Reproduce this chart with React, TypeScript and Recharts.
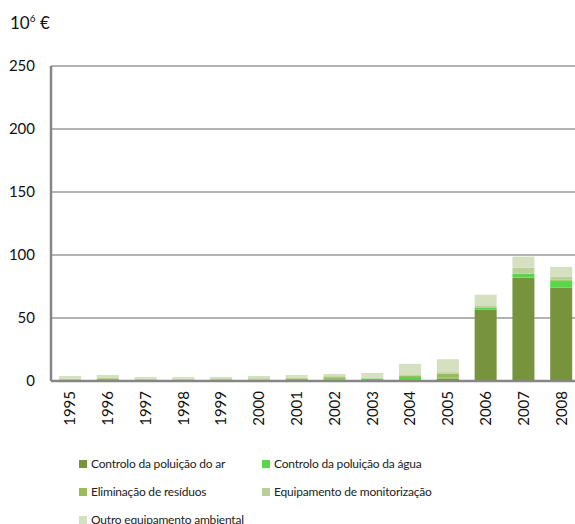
import { Bar, BarChart, CartesianGrid, XAxis, YAxis } from "recharts";

// Stacked annual spend by equipment type, values in millions of euro.
const years = ["1995", "1996", "1997", "1998", "1999", "2000", "2001", "2002", "2003", "2004", "2005", "2006", "2007", "2008"];
const air = [0, 0, 0, 0, 0, 0, 0, 0.6, 0, 0.8, 2, 56.5, 82, 74];
const water = [0, 0, 0, 0, 0, 0, 0, 0.8, 2, 2.4, 0.5, 1.9, 3.2, 5.6];
const residues = [1.2, 1.6, 1.2, 1.0, 0.8, 1.2, 1.6, 1.6, 0, 0.8, 3.2, 0, 0, 1];
const monitoring = [0.8, 0.8, 0.6, 0.8, 0.8, 1.0, 1.0, 0.8, 0.6, 0.8, 1.3, 1.6, 4.8, 2];
const other = [2, 2.4, 1.4, 1.4, 1.6, 1.8, 2.2, 1.8, 3.8, 8.8, 10.3, 8.5, 8.7, 8];
const yTicks = [0, 50, 100, 150, 200, 250];

const SERIES = [
  { key: "air", name: "Controlo da poluição do ar", color: "#77933C", values: air },
  { key: "water", name: "Controlo da poluição da água", color: "#58D848", values: water },
  { key: "residues", name: "Eliminação de resíduos", color: "#9BBB59", values: residues },
  { key: "monitoring", name: "Equipamento de monitorização", color: "#BCCF99", values: monitoring },
  { key: "other", name: "Outro equipamento ambiental", color: "#D4E0BF", values: other },
];

const data = years.map((year, i) => {
  const row: Record<string, string | number> = { year };
  SERIES.forEach((s) => {
    row[s.key] = s.values[i];
  });
  return row;
});

const FONT = "Lato, 'Open Sans', sans-serif";

function YearTick({ x, y, payload }: any) {
  return (
    <g transform={`translate(${x},${y})`}>
      <text
        transform="rotate(-90)"
        x={-8}
        dy="0.36em"
        textAnchor="end"
        fill="#111"
        fontSize={15}
        fontFamily={FONT}
      >
        {payload.value}
      </text>
    </g>
  );
}

export default function App() {
  return (
    <div
      style={{
        position: "absolute",
        left: 0,
        top: 0,
        width: 575,
        height: 524,
        overflow: "hidden",
        background: "#fff",
        fontFamily: FONT,
      }}
    >
      <div
        style={{
          position: "absolute",
          left: 10,
          top: 14,
          fontSize: 17,
          lineHeight: "18px",
          color: "#111",
        }}
      >
        10<sup style={{ fontSize: 10, lineHeight: 0 }}>6</sup> €
      </div>
      <div style={{ position: "absolute", left: 0, top: 0 }}>
        <BarChart
          width={580}
          height={524}
          data={data}
          margin={{ top: 66, right: 0, bottom: 143, left: 0 }}
          barSize={22}
        >
          <CartesianGrid vertical={false} stroke="#9a9a9a" strokeWidth={1.5} />
          <XAxis
            dataKey="year"
            tick={<YearTick />}
            tickLine={false}
            tickSize={0}
            height={0.01}
            axisLine={{ stroke: "#868686", strokeWidth: 2.5 }}
            interval={0}
          />
          <YAxis
            width={51}
            domain={[0, 250]}
            ticks={yTicks}
            tickLine={false}
            tickSize={0}
            tickMargin={16}
            axisLine={{ stroke: "#868686", strokeWidth: 2.5 }}
            tick={{ fill: "#111", fontSize: 15, fontFamily: FONT }}
          />
          {SERIES.map((s) => (
            <Bar
              key={s.key}
              dataKey={s.key}
              stackId="a"
              fill={s.color}
              isAnimationActive={false}
            />
          ))}
        </BarChart>
      </div>
      <div
        style={{
          position: "absolute",
          left: 79,
          top: 455,
          display: "grid",
          gridTemplateColumns: "183px auto",
          rowGap: 11,
          fontSize: 12,
          letterSpacing: -0.2,
          color: "#222",
        }}
      >
        {SERIES.map((s) => (
          <div key={s.key} style={{ display: "flex", alignItems: "center", height: 17 }}>
            <span style={{ width: 8, height: 8, background: s.color, marginRight: 4, flex: "none" }} />
            <span style={{ whiteSpace: "nowrap" }}>{s.name}</span>
          </div>
        ))}
      </div>
    </div>
  );
}
